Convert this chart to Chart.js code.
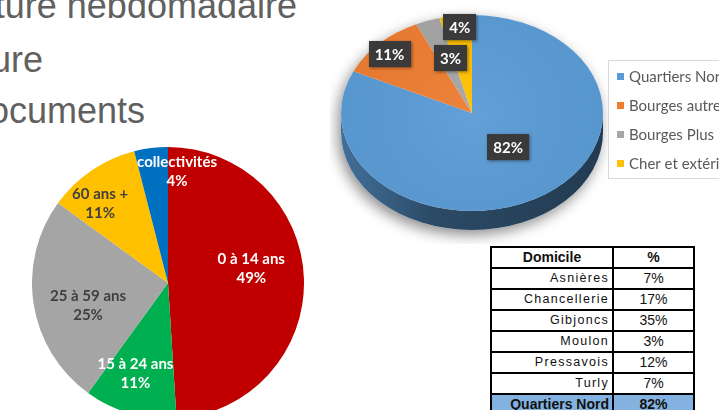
<!DOCTYPE html>
<html>
<head>
<meta charset="utf-8">
<script src="https://cdn.jsdelivr.net/npm/chart.js@4.4.0/dist/chart.umd.min.js"></script>
<style>
html, body { margin: 0; padding: 0; background: #fff; }
body { width: 719px; height: 410px; overflow: hidden; position: relative; font-family: "Liberation Sans", Arial, sans-serif; }
.title { position: absolute; color: #606060; font-size: 36px; line-height: 36px; white-space: nowrap; }
#ageChart { position: absolute; left: 32px; top: 147px; }
#homeChart { position: absolute; left: 330px; top: -18px; }
#homeTable { position: absolute; left: 490px; top: 246px; border-collapse: collapse; table-layout: fixed; width: 203px; }
#homeTable td { border: 2px solid #000; height: 19px; line-height: 19px; padding: 0 4px; font-size: 14px; color: #111; }
#homeTable td.name { text-align: right; font-size: 12.5px; letter-spacing: 1.3px; padding-right: 3px; }
#homeTable td.val { text-align: center; }
#homeTable tr.head td { font-weight: bold; text-align: center; }
#homeTable tr.total td { background: #83B1E0; font-weight: bold; letter-spacing: 0; font-size: 14px; }
</style>
</head>
<body>
<div class="title" style="right:422px; top:-12px;">Lecture hebdomadaire</div>
<div class="title" style="right:676px; top:42px;">Écriture</div>
<div class="title" style="right:574px; top:93px;">Documents</div>

<canvas id="ageChart" width="272" height="272"></canvas>
<canvas id="homeChart" width="389" height="262"></canvas>
<table id="homeTable"></table>

<script>
// Répartition par âge
const ageLabels = ['0 à 14 ans', '15 à 24 ans', '25 à 59 ans', '60 ans +', 'collectivités'];
const ageShares = [49, 11, 25, 11, 4];
const ageColors = ['#C00000', '#00B050', '#A5A5A5', '#FFC000', '#0070C0'];
const ageTextColors = ['#fff', '#fff', '#404040', '#404040', '#fff'];

// Domicile (camembert 3D)
const homeLabels = ['Quartiers Nord', 'Bourges autres', 'Bourges Plus', 'Cher et extérieur'];
const homeShares = [82, 11, 3, 4];
const homeColors = ['#5B9BD5', '#ED7D31', '#A5A5A5', '#FFC000'];

// Détail des quartiers nord
const districts = ['Asnières', 'Chancellerie', 'Gibjoncs', 'Moulon', 'Pressavois', 'Turly'];
const districtShares = [7, 17, 35, 3, 12, 7];

// label placement (fraction of radius + small nudge)
const ageLabelPos = [[0.62, -1, -12], [0.70, -6, -1], [0.61, 2, 10], [0.77, -9, 7], [0.82, 23, -1]];
const homeLabelPos = [[0.50, 1, -7], [0.88, -1, 2], [0.55, 3, -4], [0.87, 2, -1]];
const TILT = 0.748;
const DEPTH = 19;

const ageLabelPlugin = {
    id: 'ageLabels',
    afterDatasetsDraw(chart) {
        const ctx = chart.ctx;
        const arcs = chart.getDatasetMeta(0).data;
        ctx.save();
        ctx.font = 'bold 15px Lato, "Liberation Sans", sans-serif';
        ctx.textAlign = 'center';
        ctx.textBaseline = 'middle';
        arcs.forEach((arc, i) => {
            const mid = (arc.startAngle + arc.endAngle) / 2;
            const [f, dx, dy] = ageLabelPos[i];
            const x = arc.x + Math.cos(mid) * arc.outerRadius * f + dx;
            const y = arc.y + Math.sin(mid) * arc.outerRadius * f + dy;
            ctx.fillStyle = ageTextColors[i];
            ctx.fillText(chart.data.labels[i], x, y - 9.5);
            ctx.fillText(chart.data.datasets[0].data[i] + '%', x, y + 9.5);
        });
        ctx.restore();
    }
};

new Chart(document.getElementById('ageChart'), {
    type: 'pie',
    data: {
        labels: ageLabels,
        datasets: [{ data: ageShares, backgroundColor: ageColors, borderWidth: 0 }]
    },
    options: {
        responsive: false,
        animation: false,
        plugins: { legend: { display: false }, tooltip: { enabled: false } }
    },
    plugins: [ageLabelPlugin]
});

function normAngle(a) {
    const t = Math.PI * 2;
    return ((a % t) + t) % t;
}

const pie3dPlugin = {
    id: 'pie3d',
    beforeDatasetsDraw(chart) {
        const ctx = chart.ctx;
        const arcs = chart.getDatasetMeta(0).data;
        const colors = chart.data.datasets[0].backgroundColor;
        const cx = arcs[0].x, cy = arcs[0].y, rx = arcs[0].outerRadius;
        const ry = rx * TILT;

        // soft shadow under the whole pie
        ctx.save();
        ctx.shadowColor = 'rgba(0,0,0,0.45)';
        ctx.shadowBlur = 14;
        ctx.shadowOffsetX = -3;
        ctx.shadowOffsetY = 5;
        ctx.beginPath();
        ctx.ellipse(cx, cy, rx, ry, 0, Math.PI, 0);
        ctx.ellipse(cx, cy + DEPTH, rx, ry, 0, 0, Math.PI);
        ctx.closePath();
        ctx.fillStyle = '#fff';
        ctx.fill();
        ctx.restore();

        // side walls (front half only)
        const shade = ctx.createLinearGradient(cx - rx, 0, cx + rx, 0);
        shade.addColorStop(0, 'rgba(0,0,0,0.28)');
        shade.addColorStop(0.35, 'rgba(0,0,0,0.52)');
        shade.addColorStop(1, 'rgba(0,0,0,0.62)');
        arcs.forEach((arc, i) => {
            const s = normAngle(arc.startAngle);
            const e = s + (arc.endAngle - arc.startAngle);
            [0, Math.PI * 2].forEach(off => {
                const a = Math.max(s, off), b = Math.min(e, off + Math.PI);
                if (b <= a) return;
                ctx.beginPath();
                ctx.ellipse(cx, cy, rx, ry, 0, a, b);
                ctx.ellipse(cx, cy + DEPTH, rx, ry, 0, b, a, true);
                ctx.closePath();
                ctx.fillStyle = colors[i];
                ctx.fill();
                ctx.fillStyle = shade;
                ctx.fill();
            });
        });

        // top faces
        arcs.forEach((arc, i) => {
            ctx.beginPath();
            ctx.moveTo(cx, cy);
            ctx.ellipse(cx, cy, rx, ry, 0, arc.startAngle, arc.endAngle);
            ctx.closePath();
            ctx.fillStyle = colors[i];
            ctx.fill();
        });
        const glow = ctx.createRadialGradient(cx, cy, 0, cx, cy, rx);
        glow.addColorStop(0, 'rgba(255,255,255,0.05)');
        glow.addColorStop(1, 'rgba(0,0,0,0.03)');
        ctx.beginPath();
        ctx.ellipse(cx, cy, rx, ry, 0, 0, Math.PI * 2);
        ctx.fillStyle = glow;
        ctx.fill();
        return false;
    },
    afterDraw(chart) {
        const ctx = chart.ctx;
        const arcs = chart.getDatasetMeta(0).data;
        const cx = arcs[0].x, cy = arcs[0].y, rx = arcs[0].outerRadius;
        const ry = rx * TILT;

        // data labels in dark boxes
        ctx.save();
        ctx.font = 'bold 15px Lato, "Liberation Sans", sans-serif';
        ctx.textAlign = 'center';
        ctx.textBaseline = 'middle';
        arcs.forEach((arc, i) => {
            const mid = (arc.startAngle + arc.endAngle) / 2;
            const [f, dx, dy] = homeLabelPos[i];
            const x = cx + Math.cos(mid) * rx * f + dx;
            const y = cy + Math.sin(mid) * ry * f + dy;
            const txt = chart.data.datasets[0].data[i] + '%';
            const w = ctx.measureText(txt).width + 12;
            const h = 26;
            ctx.save();
            ctx.shadowColor = 'rgba(0,0,0,0.45)';
            ctx.shadowBlur = 3;
            ctx.shadowOffsetX = 1;
            ctx.shadowOffsetY = 1;
            ctx.fillStyle = '#3A3A3A';
            ctx.fillRect(Math.round(x - w / 2), Math.round(y - h / 2), Math.round(w), h);
            ctx.restore();
            ctx.fillStyle = '#fff';
            ctx.fillText(txt, x, y + 1);
        });
        ctx.restore();

        // legend box
        const lx = 278, ly = 78;
        ctx.save();
        ctx.fillStyle = '#fff';
        ctx.fillRect(lx, ly, 130, 118);
        ctx.strokeStyle = '#D9D9D9';
        ctx.lineWidth = 1;
        ctx.strokeRect(lx + 0.5, ly + 0.5, 130, 118);
        ctx.font = '15px Lato, "Liberation Sans", sans-serif';
        ctx.textBaseline = 'middle';
        chart.data.labels.forEach((lab, i) => {
            const y = ly + 17 + i * 29;
            ctx.fillStyle = chart.data.datasets[0].backgroundColor[i];
            ctx.fillRect(lx + 9, y - 4, 7, 7);
            ctx.fillStyle = '#595959';
            ctx.fillText(lab, lx + 21, y);
        });
        ctx.restore();
    }
};

new Chart(document.getElementById('homeChart'), {
    type: 'pie',
    data: {
        labels: homeLabels,
        datasets: [{ data: homeShares, backgroundColor: homeColors, borderWidth: 0 }]
    },
    options: {
        responsive: false,
        animation: false,
        layout: { padding: { left: 11, right: 116, top: 0, bottom: 0 } },
        plugins: { legend: { display: false }, tooltip: { enabled: false } }
    },
    plugins: [pie3dPlugin]
});

// table built from the district arrays
const table = document.getElementById('homeTable');
let html = '<colgroup><col style="width:122px"><col style="width:81px"></colgroup>';
html += '<tr class="head"><td>Domicile</td><td>%</td></tr>';
districts.forEach((d, i) => {
    html += '<tr><td class="name">' + d + '</td><td class="val">' + districtShares[i] + '%</td></tr>';
});
html += '<tr class="total"><td class="name">' + homeLabels[0] + '</td><td class="val">' + homeShares[0] + '%</td></tr>';
table.innerHTML = html;
</script>
</body>
</html>
